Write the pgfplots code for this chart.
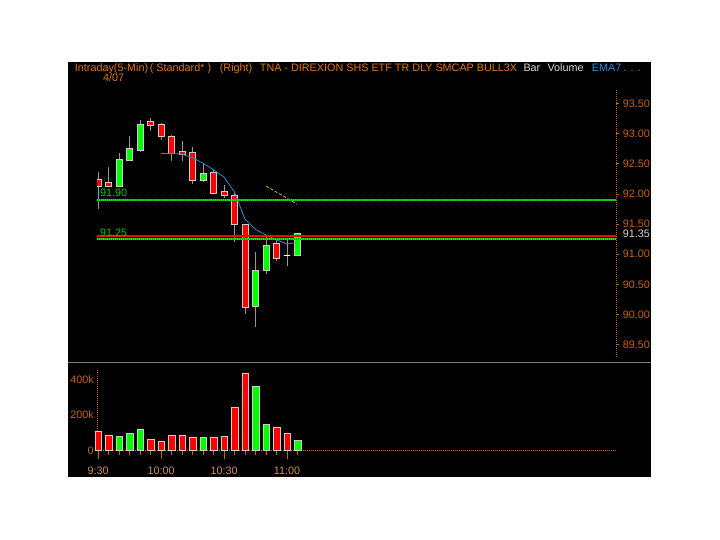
\documentclass[border=0pt]{standalone}
\usepackage{pgfplots}
\pgfplotsset{compat=1.18}
\usepgfplotslibrary{statistics}
\usepackage{fontspec}
\setmainfont{Liberation Sans}
\definecolor{ttlorange}{RGB}{226,118,10}
\definecolor{tickorange}{RGB}{200,100,10}
\definecolor{timetan}{RGB}{205,145,85}
\definecolor{cred}{RGB}{255,0,0}
\definecolor{cgreen}{RGB}{0,255,0}
\definecolor{lvlgreen}{RGB}{0,205,0}
\definecolor{lvldark}{RGB}{0,150,0}
\definecolor{wick}{RGB}{150,150,150}
\definecolor{edge}{RGB}{205,205,205}
\definecolor{emablue}{RGB}{40,140,215}
\definecolor{yel}{RGB}{200,200,0}
\definecolor{lgray}{RGB}{215,215,215}
\definecolor{sepgray}{RGB}{128,128,128}
\newcommand{\candle}[7]{%
\addplot[draw=#7, fill=#6, line width=0.6pt,
  boxplot/every whisker/.style={draw=wick, line width=1pt},
  boxplot prepared={draw position=#1, lower whisker=#2, lower quartile=#3, median=#3,
  upper quartile=#4, upper whisker=#5, box extend=0.6, whisker extend=0}] coordinates {};}
\begin{document}
\fontsize{10.8}{12}\selectfont
\begin{tikzpicture}[x=1pt,y=1pt]
\useasboundingbox (0,0) rectangle (720,540);
\fill[white] (0,0) rectangle (720,540);
\fill[black] (68,63) rectangle (651,478);
\draw[sepgray, line width=1pt] (68,177) -- (651,177);

\begin{axis}[at={(97pt,183pt)}, anchor=south west, scale only axis,
  width=519pt, height=267pt,
  xmin=-0.1, xmax=49.33, ymin=89.296, ymax=93.724,
  boxplot/draw direction=y,
  axis x line=none, axis y line*=right, xtick=\empty,
  y axis line style={tickorange, densely dotted, line width=1pt},
  ytick={89.5,90,90.5,91,91.5,92,92.5,93,93.5},
  tick align=outside, major tick length=3pt,
  major tick style={tickorange, line width=0.8pt},
  /pgf/number format/assume math mode=true,
  yticklabel style={text=tickorange, font=\fontsize{10.8}{12}\selectfont,
    /pgf/number format/.cd, fixed, fixed zerofill, precision=2},
]
\candle{0}{91.75}{92.13}{92.25}{92.36}{cred}{edge}
\candle{1}{92.12}{92.13}{92.20}{92.45}{cred}{edge}
\candle{2}{92.12}{92.13}{92.58}{92.68}{cgreen}{edge}
\candle{3}{92.55}{92.55}{92.76}{92.96}{cgreen}{edge}
\candle{4}{92.69}{92.73}{93.16}{93.22}{cgreen}{edge}
\candle{5}{93.05}{93.14}{93.20}{93.26}{cred}{edge}
\candle{6}{92.90}{92.95}{93.16}{93.18}{cred}{edge}
\candle{7}{92.55}{92.67}{92.95}{92.97}{cred}{edge}
\candle{8}{92.54}{92.65}{92.70}{92.88}{cred}{edge}
\candle{9}{92.17}{92.23}{92.69}{92.78}{cred}{edge}
\candle{10}{92.19}{92.23}{92.34}{92.50}{cgreen}{edge}
\candle{11}{92.00}{92.01}{92.36}{92.40}{cred}{edge}
\candle{12}{91.94}{91.98}{92.05}{92.15}{cred}{edge}
\candle{13}{91.21}{91.50}{91.97}{92.01}{cred}{edge}
\candle{14}{90.01}{90.12}{91.50}{91.50}{cred}{edge}
\candle{15}{89.79}{90.13}{90.74}{91.04}{cgreen}{edge}
\candle{16}{90.68}{90.74}{91.15}{91.29}{cgreen}{edge}
\candle{17}{90.89}{90.93}{91.18}{91.24}{cred}{edge}
\candle{18}{90.81}{90.98}{90.98}{91.25}{white}{white}
\candle{19}{90.99}{90.99}{91.35}{91.36}{cgreen}{edge}
% EMA7
\addplot[draw=emablue, line width=0.8pt] coordinates {(6,92.67) (7,92.67) (8,92.66) (9,92.60) (10,92.51) (11,92.40) (12,92.28) (13,92.03) (14,91.58) (15,91.41) (16,91.32) (17,91.24) (18,91.17) (18.8,91.19)};
% yellow trend segment
\addplot[draw=yel, line width=0.8pt, densely dashed] coordinates {(16,92.13) (17,92.03) (18,91.93) (18.95,91.83)};
% level lines
\addplot[draw=red, line width=2pt] coordinates {(-0.1,91.31) (49.33,91.31)};
\addplot[draw=lvldark, line width=1.8pt] coordinates {(-0.1,91.90) (49.33,91.90)};
\addplot[draw=cgreen, line width=1.8pt, dash pattern=on 1pt off 1pt] coordinates {(-0.1,91.90) (49.33,91.90)};
\addplot[draw=lvldark, line width=1.8pt] coordinates {(-0.1,91.25) (49.33,91.25)};
\addplot[draw=cgreen, line width=1.8pt, dash pattern=on 1pt off 1pt] coordinates {(-0.1,91.25) (49.33,91.25)};
\end{axis}

\begin{axis}[at={(97pt,89.3pt)}, anchor=south west, scale only axis,
  width=519pt, height=81.7pt,
  xmin=-0.1, xmax=49.33, ymin=0, ymax=458, clip=false,
  axis x line*=bottom, axis y line*=left,
  axis line style={tickorange, densely dotted, line width=1pt},
  xtick={0,6,12,18}, xticklabels={9:30,10:00,10:30,11:00},
  minor xtick={1,2,3,4,5,7,8,9,10,11,13,14,15,16,17,19},
  ytick={0,200,400}, yticklabels={0,200k,400k},
  tick align=outside, major tick length=8pt, minor tick length=4pt,
  xtick style={tickorange, line width=0.8pt},
  ytick style={draw=none},
  xticklabel style={text=timetan, font=\fontsize{10.8}{12}\selectfont, yshift=-4pt},
  yticklabel style={text=tickorange, font=\fontsize{10.8}{12}\selectfont, xshift=8.5pt},
]
\addplot[ybar, bar width=6.5pt, bar shift=0pt, fill=cred, draw=edge, line width=0.5pt]
  coordinates {(0,110) (1,86) (5,65) (6,54) (7,86) (8,86) (9,78) (11,78) (12,82) (13,241) (14,434) (17,133) (18,95)};
\addplot[ybar, bar width=6.5pt, bar shift=0pt, fill=cgreen, draw=edge, line width=0.5pt]
  coordinates {(2,82) (3,95) (4,123) (10,73) (15,359) (16,146) (19,56)};
\end{axis}

% titles and annotations
\node[anchor=base west, inner sep=0, text=ttlorange] at (74.7,468) {Intraday(5-Min)};
\node[anchor=base west, inner sep=0, text=ttlorange] at (149.7,468) {( Standard* )};
\node[anchor=base west, inner sep=0, text=ttlorange] at (219.7,468) {(Right)};
\node[anchor=base west, inner sep=0, text=ttlorange] at (259.7,468) {TNA - DIREXION SHS ETF TR DLY SMCAP BULL3X};
\node[anchor=base west, inner sep=0, text=lgray] at (523.3,468) {Bar};
\node[anchor=base west, inner sep=0, text=lgray] at (547.3,468) {Volume};
\node[anchor=base west, inner sep=0, text=emablue] at (591.7,468) {EMA7};
\node[anchor=base west, inner sep=0, text=ttlorange] at (623.3,468) {. . .};
\node[anchor=base west, inner sep=0, text=ttlorange] at (103,458) {4/07};
\node[anchor=base west, inner sep=0, text=lvlgreen] at (100,343.5) {91.90};
\node[anchor=base west, inner sep=0, text=lvlgreen] at (100,303.8) {91.25};
\node[anchor=west, inner sep=0, text=lgray] at (622.7,306) {91.35};
\end{tikzpicture}
\end{document}
